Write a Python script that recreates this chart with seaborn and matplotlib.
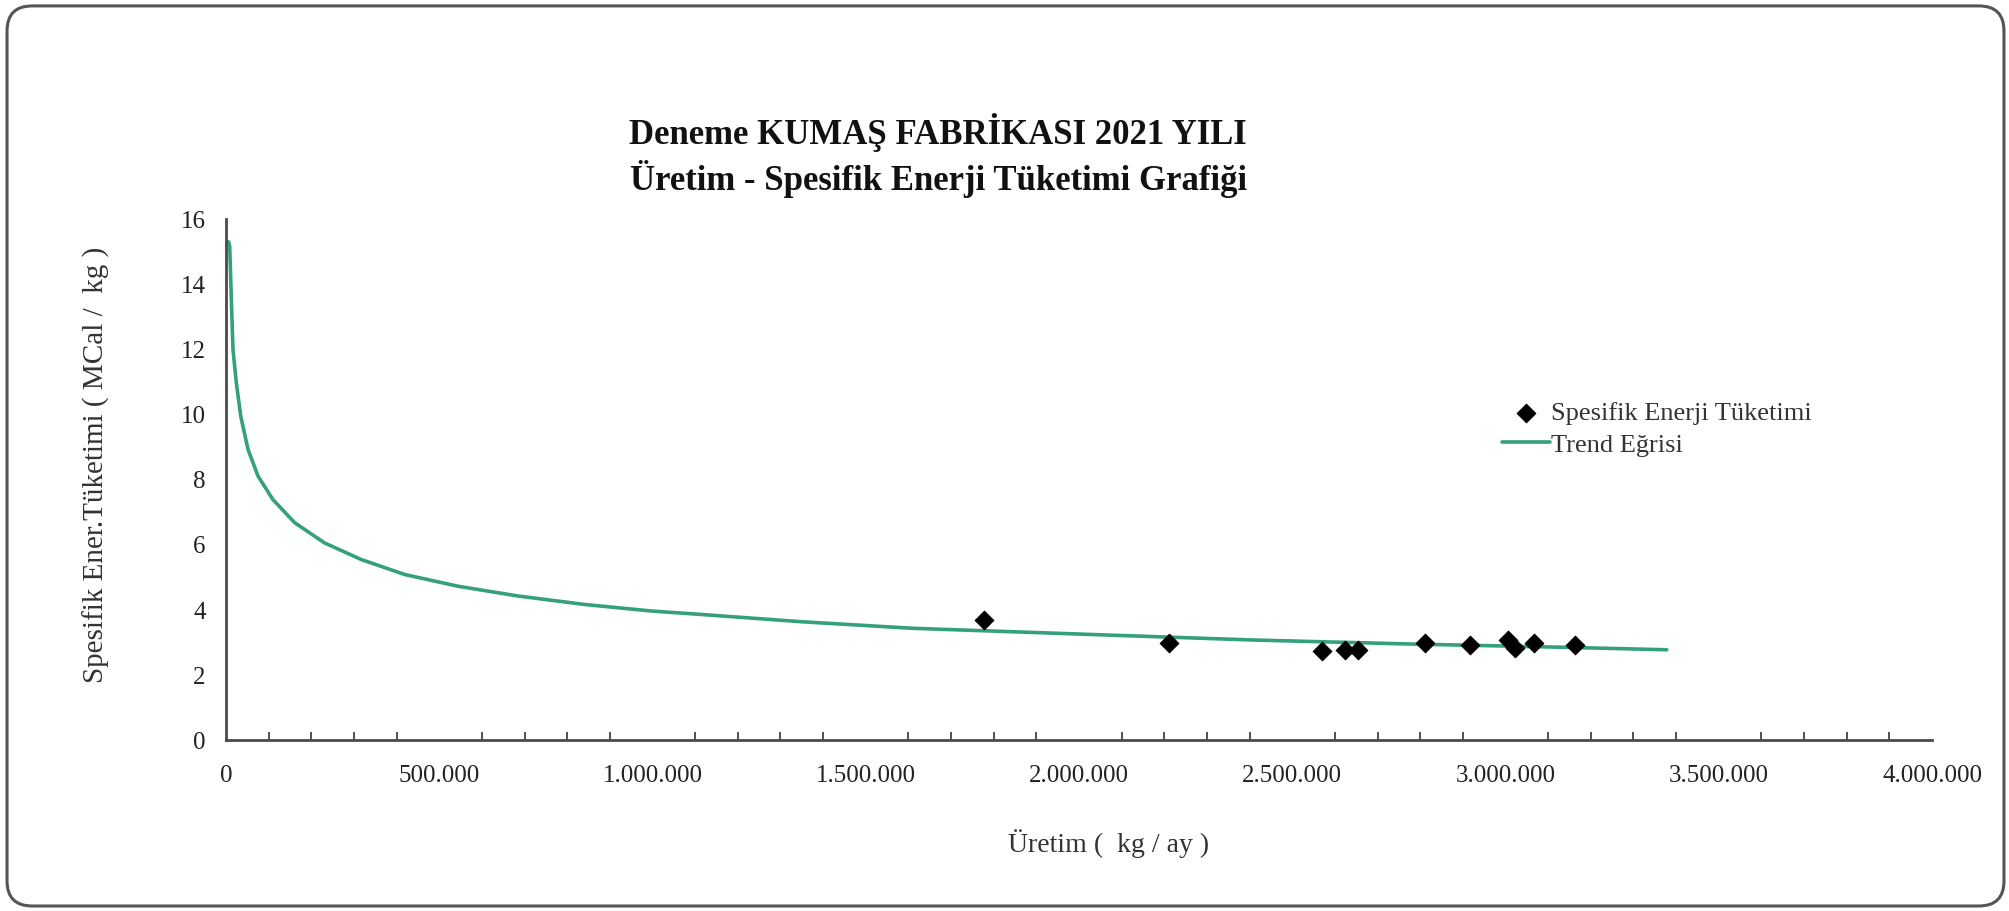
import numpy as np
import pandas as pd
import matplotlib
matplotlib.use("Agg")
import matplotlib.pyplot as plt
import seaborn as sns
from matplotlib.patches import FancyBboxPatch
from matplotlib.ticker import MultipleLocator, FuncFormatter

# monthly points: production (kg/month) vs specific energy (MCal/kg)
uretim = [1777000, 2211000, 2570000, 2624000, 2655000, 2811000,
          2916000, 3005000, 3021000, 3066000, 3162000]
spesifik = [3.68, 3.00, 2.75, 2.78, 2.78, 2.98, 2.93, 3.08, 2.85, 2.98, 2.93]

# trend curve
trend_x = [6000, 8700, 12500, 16400, 24200, 34500, 51600, 75000, 110000,
           161000, 231000, 317000, 419000, 544000, 685000, 841000, 997000,
           1108000, 1350000, 1609000, 2050000, 2408000, 2767000, 3126000,
           3378000]
trend_y = [15.3, 15.16, 13.53, 11.99, 10.97, 9.95, 8.93, 8.11, 7.39,
           6.68, 6.06, 5.55, 5.09, 4.73, 4.43, 4.17, 3.97,
           3.87, 3.64, 3.44, 3.24, 3.08, 2.96, 2.86, 2.78]

title1 = "Deneme KUMAŞ FABRİKASI 2021 YILI"
title2 = "Üretim - Spesifik Enerji Tüketimi Grafiği"

sns.set_theme(style="white")
plt.rcParams['font.family'] = ['Liberation Serif', 'DejaVu Serif']

df_pts = pd.DataFrame({'x': uretim, 'y': spesifik})
df_tr = pd.DataFrame({'x': trend_x, 'y': trend_y})

fig = plt.figure(figsize=(20.09, 9.11), dpi=100)
ax = fig.add_axes([0.1125, 0.1873, 0.8492, 0.5723])

sns.lineplot(data=df_tr, x='x', y='y', ax=ax, color='#35a07e', linewidth=2.6,
             sort=False, estimator=None, label='Trend Eğrisi', zorder=2)
sns.scatterplot(data=df_pts, x='x', y='y', ax=ax, marker='D', s=90,
                color='black', edgecolor='black', label='Spesifik Enerji Tüketimi',
                zorder=3)

ax.set_xlim(0, 4000000)
ax.set_ylim(0, 16)
ax.xaxis.set_major_locator(MultipleLocator(500000))
ax.xaxis.set_minor_locator(MultipleLocator(100000))
ax.yaxis.set_major_locator(MultipleLocator(2))
ax.xaxis.set_major_formatter(FuncFormatter(lambda v, p: f"{int(v):,}".replace(",", ".")))
ax.set_xlabel("")
ax.set_ylabel("")

for s in ['top', 'right']:
    ax.spines[s].set_visible(False)
for s in ['left', 'bottom']:
    ax.spines[s].set_color('#4a4a4a')
    ax.spines[s].set_linewidth(2)

ax.tick_params(axis='both', which='major', direction='inout', length=11, width=1.6,
               color='#333333', labelsize=18, labelcolor='#222222')
ax.tick_params(axis='x', which='major', pad=12)
ax.tick_params(axis='y', which='major', pad=9)
ax.tick_params(axis='x', which='minor', direction='in', length=6, width=1.2,
               color='#333333', bottom=True)

# legend
h, l = ax.get_legend_handles_labels()
order = [1, 0]
ax.legend([h[i] for i in order], [l[i] for i in order], frameon=False,
          loc='upper left', bbox_to_anchor=(0.736, 0.585), bbox_transform=fig.transFigure,
          fontsize=19, handlelength=1.8, handletextpad=0.05, labelspacing=0.3,
          labelcolor='#333333')

fig.text(0.467, 0.855, title1, ha='center', va='center', fontsize=25,
         fontweight='bold', color='#111111')
fig.text(0.467, 0.803, title2, ha='center', va='center', fontsize=25,
         fontweight='bold', color='#111111')
fig.text(0.552, 0.074, "Üretim (  kg / ay )", ha='center', va='center',
         fontsize=20, color='#333333')
fig.text(0.048, 0.49, "Spesifik Ener.Tüketimi ( MCal /  kg )", ha='center',
         va='center', rotation=90, fontsize=21, color='#333333')

# rounded frame around the chart
frame = FancyBboxPatch((0.0035, 0.0055), 0.994, 0.988,
                       boxstyle="round,pad=0,rounding_size=0.0125",
                       mutation_aspect=2009 / 911, transform=fig.transFigure,
                       facecolor='none', edgecolor='#555555', linewidth=2.2)
fig.patches.append(frame)

fig.savefig('out.png', dpi=100)
